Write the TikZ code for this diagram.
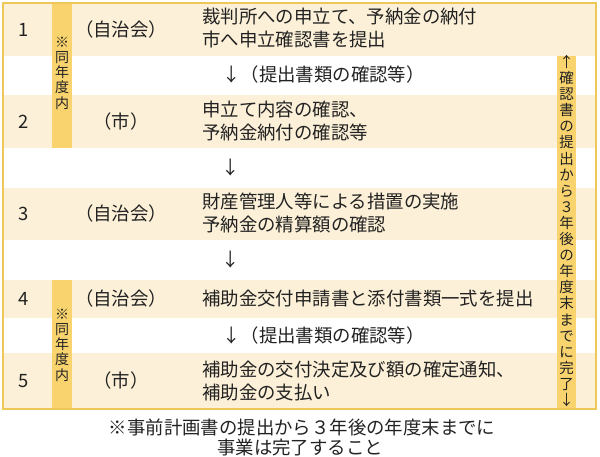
\documentclass[tikz,border=0pt]{standalone}
\usepackage{fontspec}
\setmainfont{Noto Sans CJK JP}
\definecolor{beige}{HTML}{FCF0D8}
\definecolor{baryel}{HTML}{F9D46E}
\definecolor{bord}{HTML}{EEC759}
\definecolor{ink}{HTML}{222222}
\begin{document}
\begin{tikzpicture}[x=1pt,y=-1pt,
  txt/.style={font=\fontsize{18.4}{23}\selectfont, text=ink, inner sep=0pt},
  desc/.style={txt, anchor=west, align=left},
  vtxt/.style={font=\fontsize{14}{15.3}\selectfont, text=ink, inner sep=0pt, align=center},
  vtxtr/.style={font=\fontsize{14.5}{16.1}\selectfont, text=ink, inner sep=0pt, align=center},
  rowbg/.style={fill=beige, draw=none},
  bar/.style={fill=baryel, draw=none}]
\useasboundingbox (0,0) rectangle (600,456);
\fill[white] (0,0) rectangle (600,456);
% beige rows
\path[rowbg] (4,4) rectangle (595,56);
\path[rowbg] (4,95) rectangle (595,148);
\path[rowbg] (4,188) rectangle (595,240);
\path[rowbg] (4,280) rectangle (595,318);
\path[rowbg] (4,353) rectangle (595,408);
% bars
\path[bar] (52,4) rectangle (72,148);
\path[bar] (52,280) rectangle (72,408);
\path[bar] (557,56) rectangle (576,408);
% border
\draw[bord, line width=2.5pt] (3,3) rectangle (596,409);
% numbers
\node[txt] (n1) at (24,30) {1};
\node[txt] (n2) at (24,122) {2};
\node[txt] (n3) at (24,214) {3};
\node[txt] (n4) at (24,299) {4};
\node[txt] (n5) at (24,381) {5};
% actors
\node[txt] (a1) at (121,30) {（自治会）};
\node[txt] (a2) at (121,122) {（市）};
\node[txt] (a3) at (121,214) {（自治会）};
\node[txt] (a4) at (121,299) {（自治会）};
\node[txt] (a5) at (121,381) {（市）};
% descriptions
\node[desc] (d1) at (202,28) {裁判所への申立て、予納金の納付\\市へ申立確認書を提出};
\node[desc] (d2) at (202,121) {申立て内容の確認、\\予納金納付の確認等};
\node[desc] (d3) at (202,213) {財産管理人等による措置の実施\\予納金の精算額の確認};
\node[desc] (d4) at (202,299) {補助金交付申請書と添付書類一式を提出};
\node[desc] (d5) at (202,381) {補助金の交付決定及び額の確定通知、\\補助金の支払い};
% arrows between rows
\node[desc] (g1) at (222,75) {↓（提出書類の確認等）};
\node[txt] (g2) at (231,168) {↓};
\node[txt] (g3) at (231,260) {↓};
\node[desc] (g4) at (222,336) {↓（提出書類の確認等）};
% vertical texts
\node[vtxt] (v1) at (62,73) {※\\同\\年\\度\\内};
\node[vtxt] (v2) at (62,345) {※\\同\\年\\度\\内};
\node[vtxtr] (v3) at (566.5,231) {↑\\確\\認\\書\\の\\提\\出\\か\\ら\\３\\年\\後\\の\\年\\度\\末\\ま\\で\\に\\完\\了\\↓};
% footer
\node[txt] (f1) at (302,427) {※事前計画書の提出から３年後の年度末までに};
\node[txt] (f2) at (300,448) {事業は完了すること};
\end{tikzpicture}
\end{document}
